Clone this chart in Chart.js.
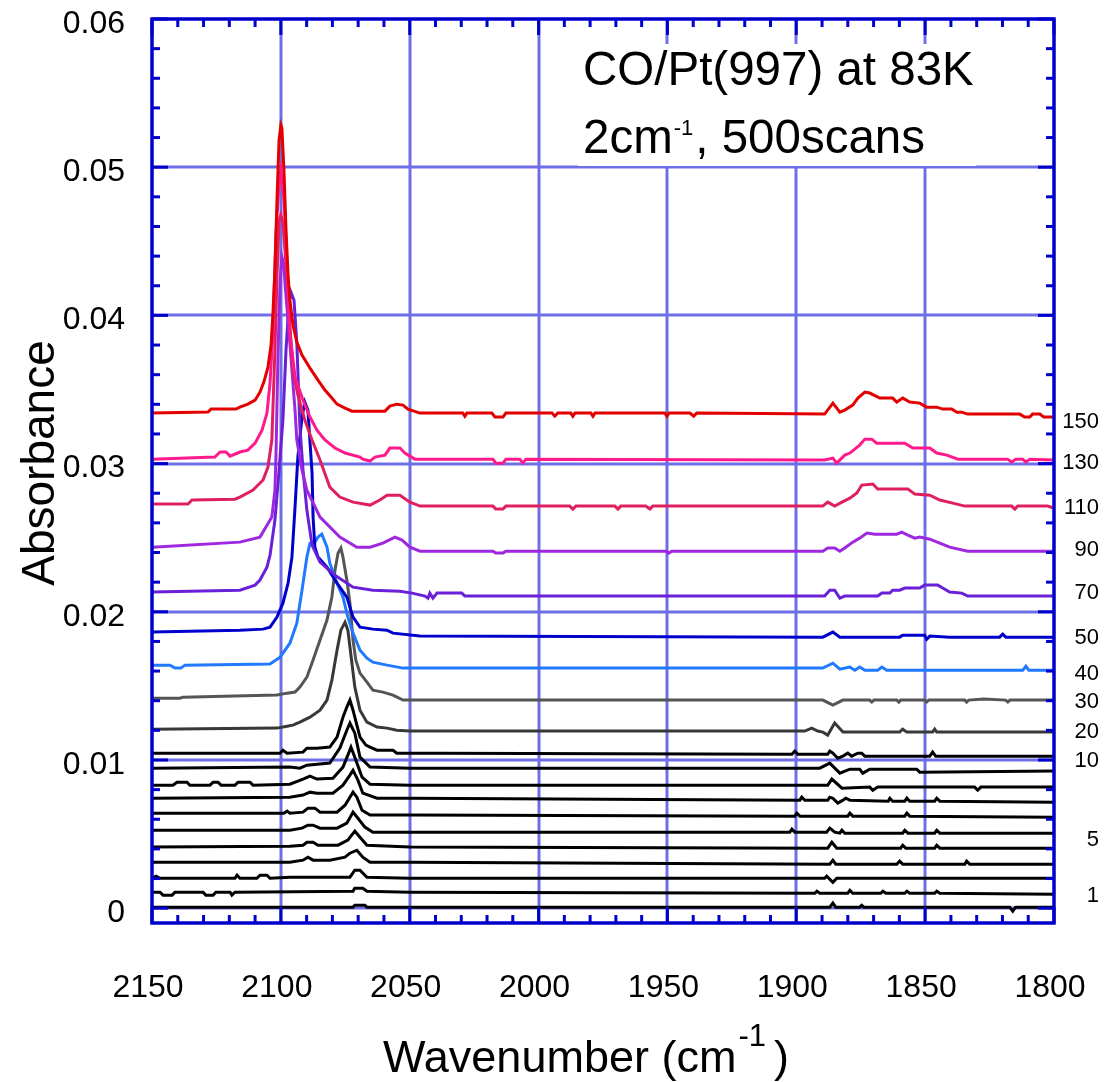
<!DOCTYPE html>
<html>
<head>
<meta charset="utf-8">
<title>CO/Pt(997) IR spectra</title>
<script src="https://cdn.jsdelivr.net/npm/chart.js@4.4.1/dist/chart.umd.min.js"></script>
<style>
  html, body { margin: 0; padding: 0; background: #fff; }
</style>
</head>
<body>
<canvas id="myChart" width="1105" height="1082"></canvas>
<script>
// spectra: [wavenumber (cm-1), absorbance]
var spec150 = [[2150,.03341],[2128.3,.03348],[2127.1,.03368],[2117.4,.03368],[2115.9,.03381],[2112.8,.03401],[2110,.03428],[2108.1,.03483],[2106.6,.0355],[2105,.03651],[2103.8,.038],[2103.1,.04002],[2102.3,.04306],[2101.5,.04778],[2100.7,.05183],[2100,.05284],[2099.6,.05264],[2098.8,.04981],[2098,.04576],[2097.2,.04272],[2096.5,.04103],[2095.3,.03935],[2093.8,.0382],[2091.8,.03732],[2088.7,.03644],[2085.6,.03563],[2082.9,.03496],[2080.2,.03442],[2078.2,.03401],[2075.1,.03374],[2072.4,.03354],[2059.6,.03354],[2057.7,.03388],[2055,.03401],[2052.6,.03395],[2050.7,.03368],[2046,.03341],[2029.4,.03341],[2028.6,.0332],[2027.8,.03341],[2018.1,.03341],[2016.9,.03314],[2013.8,.03314],[2012.7,.03341],[1994.8,.03341],[1993.7,.0332],[1992.5,.03341],[1987.5,.03341],[1986.7,.0332],[1985.9,.03341],[1979.7,.03341],[1978.9,.0332],[1978.1,.03341],[1951,.03341],[1950.2,.0332],[1949.4,.03341],[1941.3,.03341],[1939.8,.0332],[1938.6,.03341],[1889,.03334],[1885.8,.03408],[1883.1,.03347],[1881.2,.03361],[1878.1,.03395],[1876.1,.03442],[1873.4,.03483],[1871.5,.03476],[1867.6,.03442],[1862.6,.03442],[1861,.03415],[1858.7,.03442],[1856,.03415],[1852.1,.03408],[1849.4,.03381],[1845.5,.03381],[1843.2,.03368],[1839.7,.03368],[1837.7,.03347],[1835.8,.03347],[1833.5,.03334],[1813.3,.03334],[1811.4,.03314],[1809.4,.03314],[1808.3,.03334],[1805.5,.03334],[1804,.03314],[1800,.03314]];
var spec130 = [[2150,.0303],[2125.6,.03044],[2123.6,.03078],[2121.3,.03078],[2119.7,.0305],[2115.9,.03078],[2112.8,.03091],[2110,.03138],[2107.3,.03226],[2105.4,.03341],[2104.2,.03543],[2103.1,.03881],[2101.9,.04556],[2100.7,.04893],[2100,.04981],[2098.8,.04778],[2097.6,.04326],[2096.5,.03881],[2094.5,.03584],[2091.4,.03428],[2088.7,.03314],[2086,.03226],[2082.9,.03159],[2079,.03105],[2075.1,.03071],[2069.3,.03044],[2068.2,.0303],[2065.4,.03017],[2063.5,.03044],[2059.6,.03057],[2057.7,.03105],[2053.8,.03105],[2051.9,.03071],[2048,.0303],[2017.7,.0303],[2016.6,.03003],[2013.8,.03003],[2012.7,.0303],[2007.3,.0303],[2006.1,.03003],[2004.9,.0303],[1889,.03024],[1885.8,.03037],[1884.3,.03003],[1881.2,.03057],[1879.2,.03071],[1875.4,.03125],[1873.4,.03165],[1870.7,.03165],[1868.8,.03138],[1857.9,.03138],[1854.8,.03105],[1848.2,.03105],[1845.5,.03071],[1841.6,.03057],[1837.3,.0303],[1818,.0303],[1816.4,.0301],[1814.9,.0303],[1812.1,.0303],[1810.9,.0301],[1809.4,.0303],[1800,.03024]];
var spec110 = [[2150,.02727],[2136,.02727],[2134.5,.02754],[2117.8,.0276],[2115.9,.02774],[2110.8,.02821],[2106.9,.02889],[2105,.02976],[2103.5,.03159],[2103.1,.03361],[2102.3,.03766],[2101.5,.04259],[2100.7,.04643],[2100,.04677],[2099.2,.0463],[2098.4,.04441],[2096.9,.04036],[2095.3,.03631],[2093.4,.03462],[2090.7,.03294],[2087.9,.03159],[2084.8,.03024],[2081,.02841],[2077.1,.02774],[2072,.0274],[2065.4,.0272],[2061.6,.02754],[2058.8,.02787],[2053.8,.02787],[2049.9,.0274],[2046,.02713],[2017.7,.02713],[2016.6,.02693],[2013.8,.02693],[2012.7,.02713],[1987.9,.02713],[1986.7,.02693],[1985.5,.02713],[1970.4,.02713],[1969.2,.02693],[1968.1,.02713],[1958.4,.02713],[1956.8,.02693],[1955.7,.02713],[1889.7,.02713],[1887.8,.0274],[1885.1,.02713],[1882.3,.0274],[1879.2,.02767],[1876.5,.02801],[1874.6,.02855],[1870.3,.02862],[1868.4,.02828],[1856.7,.02828],[1854,.02794],[1848.2,.02787],[1844.3,.02754],[1839.3,.02733],[1834.6,.02713],[1816.4,.02713],[1815.2,.02693],[1814.1,.02713],[1802.5,.02713],[1800,.027]];
var spec90 = [[2150,.02436],[2115.9,.0247],[2108.1,.02504],[2103.5,.02639],[2102.3,.02821],[2101.9,.0305],[2101.1,.0375],[2100.3,.0423],[2099.6,.04394],[2098.8,.0434],[2098.4,.04218],[2096.5,.03813],[2094.5,.03361],[2093.8,.03159],[2091.8,.02956],[2089.9,.02821],[2084.8,.02639],[2077.1,.02504],[2070.5,.02436],[2065.4,.02436],[2060.4,.02463],[2055.7,.02504],[2053,.02484],[2049.9,.02436],[2046,.02409],[2017.7,.02409],[2016.6,.02396],[2013.8,.02396],[2012.7,.02409],[1950.6,.02409],[1949.5,.02396],[1948.3,.02409],[1889.7,.02409],[1887.8,.0243],[1885.1,.0243],[1883.1,.02409],[1881.2,.0243],[1878.1,.0247],[1875.4,.02497],[1872.6,.02531],[1869.5,.02524],[1861,.02524],[1859.1,.02538],[1856.7,.02517],[1854,.02497],[1852.1,.02504],[1848.2,.0249],[1844.3,.02463],[1840.5,.02436],[1833.5,.02409],[1800,.02409]];
var spec70 = [[2150,.02133],[2115.9,.02146],[2110,.0218],[2108.1,.02214],[2105.4,.02301],[2104.2,.02382],[2102.3,.02619],[2100.7,.02956],[2099.2,.03294],[2098,.03766],[2096.9,.0407],[2096.1,.04157],[2094.9,.04103],[2093.8,.03813],[2092.6,.03246],[2091.4,.02956],[2089.9,.02686],[2087.9,.0245],[2084.8,.02335],[2079,.02247],[2072,.02166],[2064.3,.02146],[2053.8,.02139],[2049.1,.02126],[2044.1,.02106],[2042.9,.02092],[2042.2,.02126],[2041,.02092],[2039.4,.02126],[2029.8,.02126],[2028.6,.02106],[1889,.02106],[1887,.02146],[1885.1,.02146],[1883.1,.02092],[1881.2,.02106],[1868.4,.02106],[1866.8,.02126],[1863.7,.02126],[1862.6,.02146],[1859.9,.02146],[1857.9,.0216],[1852.1,.0216],[1850.2,.0218],[1845.1,.0218],[1843.2,.0216],[1840.5,.02133],[1835.8,.02126],[1833.5,.02106],[1800,.02106]];
var spec50 = [[2150,.01863],[2115.9,.01876],[2106.9,.01883],[2104.2,.01896],[2101.5,.01964],[2099.2,.02058],[2097.2,.02193],[2095.7,.02369],[2094.5,.02706],[2093.4,.03044],[2091.8,.03314],[2090.7,.03415],[2089.5,.03361],[2087.9,.02936],[2087.5,.02639],[2086.8,.02436],[2085.6,.02369],[2082.1,.02301],[2078.2,.02193],[2074.4,.02099],[2072,.01964],[2069.3,.01896],[2064.3,.01883],[2058.8,.01876],[2056.5,.01856],[2046,.01836],[1889.7,.01829],[1885.8,.01863],[1883.1,.01829],[1859.9,.01829],[1858.7,.01842],[1850.2,.01842],[1849.4,.01815],[1848.2,.01836],[1840.5,.01829],[1821.1,.01829],[1819.9,.01849],[1818.7,.01829],[1800,.01829]];
var spec40 = [[2150,.0164],[2143,.0164],[2141.1,.0162],[2138.8,.0162],[2137.2,.0164],[2104.2,.01647],[2100.3,.01694],[2096.5,.01788],[2093.8,.01923],[2091.8,.02146],[2089.9,.02369],[2088.7,.02463],[2086.8,.0247],[2085.6,.02504],[2084.1,.02524],[2082.1,.02436],[2081,.02328],[2078.2,.02193],[2075.9,.02099],[2074,.01964],[2072,.01856],[2069.3,.01741],[2066.6,.01687],[2064.3,.0166],[2058.8,.0164],[2052.6,.0162],[1889.7,.0162],[1885.8,.01653],[1883.1,.01613],[1879.2,.01627],[1877.3,.01606],[1875.4,.01627],[1873.4,.01606],[1868.4,.01606],[1866.8,.01627],[1864.9,.01606],[1812.1,.01606],[1810.9,.01633],[1809.8,.01606],[1800,.01606]];
var spec30 = [[2150,.01417],[2139.1,.01417],[2138,.01424],[2101.5,.01438],[2097.6,.01451],[2094.5,.01458],[2092.6,.01492],[2089.9,.01559],[2087.5,.01674],[2084.8,.01809],[2082.1,.01944],[2080.2,.02099],[2079,.02281],[2077.8,.02396],[2076.7,.0243],[2075.9,.02369],[2074.4,.02214],[2073.2,.02058],[2072,.01809],[2070.9,.01674],[2069.3,.01586],[2066.6,.01525],[2064.3,.01471],[2060.4,.01458],[2056.5,.01438],[2052.6,.01404],[1889.7,.01404],[1885.8,.0137],[1881.9,.01404],[1871.5,.01404],[1870.7,.01391],[1869.9,.01404],[1861,.01404],[1860.2,.01391],[1859.5,.01404],[1850.2,.01404],[1849.4,.01391],[1848.6,.01404],[1834.6,.01404],[1833.9,.01391],[1833.1,.01404],[1827.3,.01411],[1818.7,.01404],[1817.9,.01391],[1817.1,.01404],[1800,.01404]];
var spec20 = [[2150,.01208],[2101.5,.01215],[2097.6,.01228],[2095.3,.01235],[2092.6,.01255],[2088.7,.01289],[2084.8,.01336],[2082.1,.01404],[2080.2,.01539],[2078.2,.01741],[2076.7,.01876],[2075.1,.0193],[2074,.01876],[2072.8,.01707],[2071.3,.01492],[2069.3,.01336],[2066.6,.01255],[2062.7,.01222],[2058.8,.01215],[2055,.01201],[2049.9,.01195],[1896.7,.01195],[1894,.01215],[1891.7,.01195],[1889.7,.01188],[1887.8,.01168],[1885.1,.01249],[1881.9,.01188],[1859.9,.01188],[1858.7,.01208],[1857.1,.01188],[1847.1,.01188],[1846.3,.01208],[1845.5,.01188],[1800,.01188]];
var spec10 = [[2150,.01046],[2100.3,.01046],[2099.2,.01066],[2097.6,.01046],[2091.4,.01053],[2089.9,.0108],[2086,.0108],[2081,.01087],[2078.2,.01154],[2075.9,.01289],[2074.4,.01357],[2073.2,.01404],[2072,.01336],[2070.5,.01235],[2069.3,.01154],[2067,.011],[2065.4,.01087],[2062.7,.01066],[2056.5,.01066],[2055,.01046],[2038.3,.01046],[1901.7,.01039],[1900.6,.0106],[1899.4,.01039],[1887.8,.01039],[1887,.0106],[1885.8,.01046],[1883.9,.01012],[1881.9,.01026],[1880,.01046],[1878.5,.01026],[1876.1,.01046],[1874.6,.01046],[1873.4,.01026],[1848.2,.01026],[1847.1,.01053],[1845.9,.01026],[1800,.01026]];
var spec9 = [[2150,.00945],[2096.5,.00952],[2092.6,.00945],[2089.9,.00965],[2081,.00979],[2077.1,.0108],[2074.4,.01201],[2073.2,.01249],[2071.3,.01181],[2069.3,.01019],[2065.4,.00952],[2049.9,.00945],[1890.9,.00945],[1887,.00979],[1883.1,.00911],[1879.2,.00938],[1875.4,.00938],[1874.2,.00911],[1871.5,.00938],[1853.3,.00938],[1852.1,.00918],[1800,.00925]];
var spec8 = [[2150,.0083],[2141.9,.0083],[2140.3,.0085],[2136.4,.0085],[2135.3,.0083],[2127.5,.0083],[2126.3,.0085],[2124.4,.0085],[2123.2,.0083],[2117.8,.0083],[2116.6,.0085],[2112,.0085],[2110.8,.0083],[2096.5,.00837],[2091.4,.00871],[2088.7,.00891],[2086,.00871],[2079.8,.00877],[2075.9,.00952],[2074,.01033],[2072.8,.01087],[2070.9,.00999],[2068.5,.00884],[2065.4,.00837],[2049.9,.0083],[1887.8,.0083],[1886.2,.00871],[1882.3,.0081],[1871.5,.00817],[1870.3,.00796],[1868.4,.00817],[1830.8,.00817],[1829.6,.00796],[1828.4,.00817],[1800,.00817]];
var spec7 = [[2150,.00742],[2096.5,.00749],[2091.4,.00763],[2088.7,.00783],[2086,.00776],[2079.8,.00776],[2075.9,.0083],[2073.2,.00898],[2072,.00931],[2070.1,.00864],[2068.2,.00776],[2062.7,.00742],[2049.9,.00742],[1898.6,.00729],[1897.9,.00749],[1896.7,.00729],[1887.8,.00729],[1887,.00749],[1885.8,.00742],[1883.9,.00709],[1881.9,.00729],[1880.8,.00742],[1879.2,.00729],[1864.3,.00722],[1863.7,.00742],[1862.6,.00722],[1857.9,.00722],[1857.1,.00742],[1856,.00722],[1846.3,.00722],[1845.5,.00742],[1844.3,.00722],[1800,.00715]];
var spec6 = [[2150,.00641],[2098.8,.00641],[2097.6,.00655],[2096.5,.00641],[2091.4,.00648],[2089.5,.00675],[2086.8,.00675],[2084.8,.00648],[2078.2,.00648],[2075.1,.00695],[2072,.00783],[2070.5,.00749],[2068.5,.00661],[2065.4,.00628],[2049.9,.00628],[1900.6,.00621],[1899.8,.00641],[1898.6,.00621],[1880,.00621],[1879.2,.00641],[1878.1,.00621],[1857.9,.00621],[1857.1,.00641],[1856,.00621],[1800,.00614]];
var spec5 = [[2150,.00526],[2096.5,.00526],[2091.8,.0054],[2089.5,.0056],[2087.5,.0056],[2084.8,.0054],[2078.2,.0054],[2074.4,.00574],[2072,.00648],[2070.1,.00607],[2067.4,.00547],[2064.3,.00513],[2049.9,.00513],[1902.5,.00513],[1901.7,.00533],[1900.6,.00513],[1888.2,.00513],[1887,.0054],[1885.1,.00513],[1883.1,.00506],[1882.3,.00526],[1881.2,.00506],[1858.7,.00506],[1857.9,.00526],[1856.7,.00506],[1846.3,.00506],[1845.5,.00526],[1844.3,.00506],[1800,.00506]];
var spec4 = [[2150,.00412],[2096.5,.00418],[2091.4,.00425],[2089.9,.00445],[2087.5,.00445],[2085.6,.00425],[2077.8,.00425],[2074,.00459],[2071.3,.0052],[2069.3,.00479],[2066.6,.00425],[2049.9,.00412],[1887.8,.00405],[1886.2,.00445],[1884.3,.00405],[1859.5,.00405],[1858.7,.00425],[1857.5,.00405],[1846.3,.00405],[1845.5,.00425],[1844.3,.00405],[1800,.00405]];
var spec3 = [[2150,.0031],[2096.5,.0031],[2091.4,.00324],[2089.5,.00344],[2087.5,.00324],[2081,.00324],[2075.1,.00344],[2073.2,.00371],[2070.5,.00391],[2068.2,.00344],[2065.4,.0031],[2049.9,.0031],[1887,.00297],[1885.8,.00324],[1884.7,.00297],[1861,.00297],[1859.9,.00317],[1858.7,.00297],[1834.6,.00297],[1833.9,.00317],[1832.7,.00297],[1800,.00297]];
var spec2 = [[2150,.00202],[2148.4,.00216],[2146.9,.00202],[2117.8,.00202],[2117,.00223],[2115.9,.00202],[2109.3,.00202],[2108.1,.00223],[2105.4,.00223],[2104.2,.00202],[2096.5,.00209],[2073.2,.00209],[2071.3,.00256],[2069.3,.00256],[2066.6,.00209],[2049.9,.00202],[1889,.00202],[1888.2,.00216],[1885.8,.00175],[1884.3,.00202],[1800,.00202]];
var spec1 = [[2150,.00108],[2146.9,.00108],[2145.7,.00088],[2142.2,.00088],[2141.1,.00108],[2130.2,.00108],[2129.1,.00088],[2126.3,.00088],[2125.2,.00108],[2119.7,.00108],[2119,.00088],[2117.8,.00108],[2072,.00115],[2071.3,.00135],[2068.2,.00135],[2066.6,.00115],[2049.9,.00108],[1892.8,.00101],[1892,.00115],[1890.9,.00101],[1880,.00101],[1879.2,.00121],[1878.1,.00101],[1867.2,.00101],[1866.4,.00115],[1865.2,.00101],[1857.9,.00101],[1857.1,.00115],[1856,.00101],[1846.3,.00101],[1845.5,.00115],[1844.3,.00101],[1800,.00094]];
var spec0 = [[2150,.00007],[2072,.00007],[2071.3,.0002],[2067.4,.0002],[2066.6,.00007],[1887,.00007],[1885.8,.00034],[1884.7,.00007],[1875.4,.00007],[1874.6,.0002],[1873.8,.00007],[1817.2,.00007],[1816,-.0002],[1814.9,.00007],[1800,.00007]];

// top trace first so it is painted last (on top)
var spectra = [spec150, spec130, spec110, spec90, spec70, spec50, spec40, spec30, spec20, spec10, spec9, spec8, spec7, spec6, spec5, spec4, spec3, spec2, spec1, spec0];
var doses = [150, 130, 110, 90, 70, 50, 40, 30, 20, 10, 9, 8, 7, 6, 5, 4, 3, 2, 1, 0];
var traceColors = ['#e20000', '#ff1a8c', '#e0205c', '#9e28e0', '#6a1fd8', '#0000cc', '#2179ff', '#555555', '#383838',
                   '#000', '#000', '#000', '#000', '#000', '#000', '#000', '#000', '#000', '#000', '#000'];

var xTickVals = [2150, 2100, 2050, 2000, 1950, 1900, 1850, 1800];
var yTickVals = [0, 0.01, 0.02, 0.03, 0.04, 0.05, 0.06];

// dose labels on the right edge, anchored at absorbance values
var labelText = ['150', '130', '110', '90', '70', '50', '40', '30', '20', '10', '5', '1'];
var labelAbs = [0.0328, 0.03003, 0.027, 0.02416, 0.02126, 0.01822, 0.01579, 0.0139, 0.01188, 0.00992, 0.00459, 0.00081];

var FONT = '"Liberation Sans", Arial, Helvetica, sans-serif';
var axisBlue = '#0000cc';
var gridBlue = '#6e6ee6';

function line(ctx, x1, y1, x2, y2) {
    ctx.beginPath();
    ctx.moveTo(x1, y1);
    ctx.lineTo(x2, y2);
    ctx.stroke();
}

// drop the automatic label padding so the plot box sits where the figure has it
function noPad(scale) {
    scale.paddingTop = 0;
    scale.paddingBottom = 0;
    scale.paddingLeft = 0;
    scale.paddingRight = 0;
}

var decorations = {
    id: 'decorations',
    beforeDatasetsDraw: function (chart) {
        var ctx = chart.ctx, a = chart.chartArea;
        var xs = chart.scales.x, ys = chart.scales.y;
        ctx.save();
        ctx.lineWidth = 3;
        ctx.strokeStyle = gridBlue;
        xTickVals.forEach(function (v) {
            var px = Math.round(xs.getPixelForValue(v));
            if (px <= a.left + 2 || px >= a.right - 2) return;
            line(ctx, px, a.top, px, a.bottom);
        });
        yTickVals.forEach(function (v) {
            var py = Math.round(ys.getPixelForValue(v));
            if (py <= a.top + 2) return;
            line(ctx, a.left, py, a.right, py);
        });
        // white panel behind the note
        ctx.fillStyle = '#fff';
        ctx.fillRect(578, 44, 398, 122);
        ctx.restore();
    },
    afterDatasetsDraw: function (chart) {
        var ctx = chart.ctx, a = chart.chartArea;
        var xs = chart.scales.x, ys = chart.scales.y;
        ctx.save();
        ctx.strokeStyle = axisBlue;
        ctx.lineWidth = 3;
        // y ticks every 0.002, long ones every 0.01
        for (var i = 0; i <= 30; i++) {
            var py = ys.getPixelForValue(i * 0.002);
            var len = (i % 5 === 0) ? 16 : 8;
            line(ctx, a.left, py, a.left + len, py);
            line(ctx, a.right, py, a.right - len, py);
        }
        // x ticks every 10, long ones every 50
        for (var w = 1800; w <= 2150; w += 10) {
            var px = xs.getPixelForValue(w);
            var l2 = (w % 50 === 0) ? 16 : 8;
            line(ctx, px, a.bottom, px, a.bottom - l2);
            line(ctx, px, a.top, px, a.top + l2);
        }
        ctx.lineWidth = 3.5;
        ctx.strokeRect(a.left, a.top, a.right - a.left, a.bottom - a.top);

        // note
        ctx.fillStyle = '#000';
        ctx.textBaseline = 'alphabetic';
        ctx.textAlign = 'left';
        ctx.font = '47.5px ' + FONT;
        ctx.fillText('CO/Pt(997) at 83K', 583, 85);
        var t = '2cm';
        ctx.fillText(t, 583, 153);
        var x2 = 583 + ctx.measureText(t).width + 1;
        ctx.font = '22px ' + FONT;
        ctx.fillText('-1', x2, 135);
        x2 += ctx.measureText('-1').width + 2;
        ctx.font = '47.5px ' + FONT;
        ctx.fillText(', 500scans', x2, 153);

        // dose labels
        ctx.font = '22px ' + FONT;
        ctx.textAlign = 'right';
        ctx.textBaseline = 'middle';
        labelText.forEach(function (s, k) {
            ctx.fillText(s, 1099, ys.getPixelForValue(labelAbs[k]));
        });

        // axis titles
        ctx.textBaseline = 'alphabetic';
        ctx.textAlign = 'center';
        ctx.font = '46px ' + FONT;
        ctx.save();
        ctx.translate(54, 463);
        ctx.rotate(-Math.PI / 2);
        ctx.fillText('Absorbance', 0, 0);
        ctx.restore();

        ctx.textAlign = 'left';
        ctx.font = '45px ' + FONT;
        var s1 = 'Wavenumber (cm';
        var wx = 383;
        ctx.fillText(s1, wx, 1072);
        wx += ctx.measureText(s1).width + 2;
        ctx.font = '31px ' + FONT;
        ctx.fillText('-1', wx, 1046);
        wx += ctx.measureText('-1').width + 8;
        ctx.font = '45px ' + FONT;
        ctx.fillText(')', wx, 1072);
        ctx.restore();
    }
};

var ctx = document.getElementById('myChart').getContext('2d');
var myChart = new Chart(ctx, {
    type: 'line',
    data: {
        datasets: spectra.map(function (sp, i) {
            return {
                label: String(doses[i]),
                data: sp.map(function (p) { return {x: p[0], y: p[1]}; }),
                borderColor: traceColors[i],
                borderWidth: 3,
                pointRadius: 0,
                tension: 0,
                fill: false
            };
        })
    },
    options: {
        responsive: false,
        animation: false,
        devicePixelRatio: 1,
        layout: { padding: { top: 19, right: 51, left: 0, bottom: 0 } },
        plugins: { legend: { display: false }, tooltip: { enabled: false } },
        scales: {
            x: {
                type: 'linear',
                reverse: true,
                min: 1800,
                max: 2150,
                grid: { display: false, drawTicks: false },
                border: { display: false },
                afterBuildTicks: function (scale) {
                    scale.ticks = xTickVals.map(function (v) { return {value: v}; });
                },
                afterFit: function (scale) { scale.height = 159; noPad(scale); },
                ticks: {
                    color: '#000',
                    font: { family: FONT, size: 32 },
                    padding: 46,
                    labelOffset: -4,
                    maxRotation: 0,
                    callback: function (v) { return String(v); }
                }
            },
            y: {
                type: 'linear',
                min: -0.001,
                max: 0.06,
                grid: { display: false, drawTicks: false },
                border: { display: false },
                afterBuildTicks: function (scale) {
                    scale.ticks = yTickVals.map(function (v) { return {value: v}; });
                },
                afterFit: function (scale) { scale.width = 152; noPad(scale); },
                ticks: {
                    color: '#000',
                    font: { family: FONT, size: 32 },
                    padding: 27,
                    labelOffset: 5,
                    callback: function (v) { return v === 0 ? '0' : v.toFixed(2); }
                }
            }
        }
    },
    plugins: [decorations]
});
</script>
</body>
</html>
